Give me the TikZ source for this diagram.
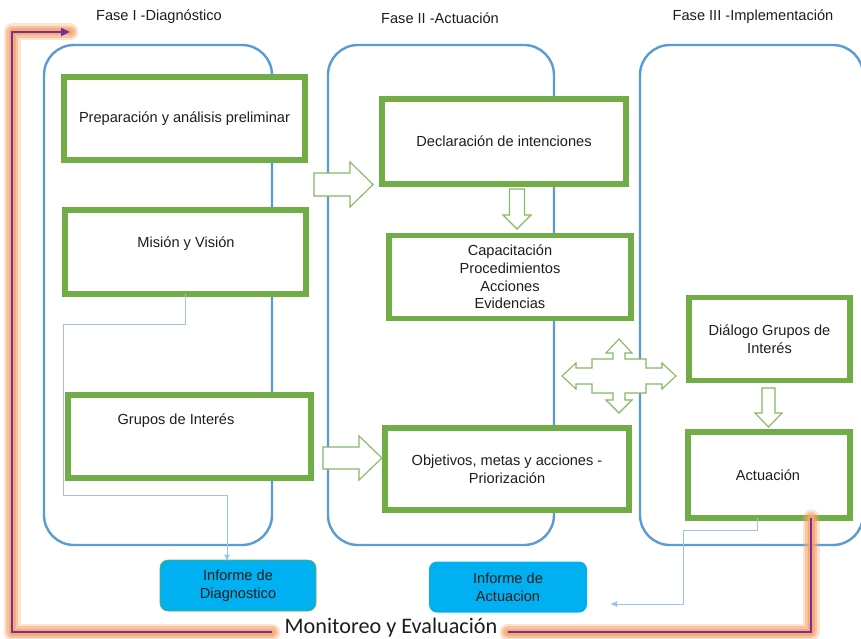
\documentclass[tikz,border=0pt]{standalone}
\usepackage{fontspec}
\setmainfont{Liberation Sans}
\newfontfamily\calfont{Carlito}
\usetikzlibrary{arrows.meta}
\definecolor{gbox}{HTML}{70AD47}
\definecolor{lane}{HTML}{5B9BD5}
\definecolor{cyanbox}{HTML}{00B0F0}
\definecolor{thinc}{HTML}{9DC3E6}
\definecolor{purp}{HTML}{7030A0}
\definecolor{glow}{HTML}{F8A56A}
\definecolor{txt}{HTML}{1E1E1E}
\tikzset{
  lanebox/.style={draw=lane, line width=2.4pt, rounded corners=30pt},
  gbx/.style={draw=gbox, line width=5.5pt, fill=white, text=txt, align=center,
    font=\fontsize{14.6}{17.7}\selectfont, inner sep=0pt},
  infobox/.style={fill=cyanbox, rounded corners=8pt, text=txt, align=center,
    font=\fontsize{14.6}{17.7}\selectfont, inner sep=0pt},
  fase/.style={text=txt, font=\fontsize{14.6}{17}\selectfont, inner sep=0pt},
  blockarrow/.style={draw=gbox!85!white, line width=1.1pt, fill=white, line join=miter},
  thinconn/.style={draw=thinc, line width=1pt, -{Latex[length=7pt,width=6pt]}},
  loopline/.style={draw=purp, line width=2.8pt},
}
\begin{document}
\begin{tikzpicture}[x=1pt,y=-1pt]
\useasboundingbox (0,0) rectangle (861,639);
\fill[white] (0,0) rectangle (861,639);
% lanes
\draw[lanebox] (44,45) rectangle (272,545);
\draw[lanebox] (328,45) rectangle (554,545);
\draw[lanebox] (640,45) rectangle (863,545);
% phase labels
\node[fase] (f1) at (159,17) {Fase I -Diagnóstico};
\node[fase] (f2) at (440,18) {Fase II -Actuación};
\node[fase] (f3) at (753,17) {Fase III -Implementación};
% green boxes
\node[gbx, minimum width=241pt, minimum height=83pt] (prep) at (184.5,118.5) {Preparación y análisis preliminar};
\node[gbx, minimum width=241pt, minimum height=84pt] (mision) at (185.5,252) {};
\node[fase] (misiont) at (186,244) {Misión y Visión};
\node[gbx, minimum width=243pt, minimum height=83pt] (grupos) at (189.5,436.5) {};
\node[fase] (grupost) at (176,421) {Grupos de Interés};
\node[gbx, minimum width=244pt, minimum height=85pt] (decl) at (504,141.5) {Declaración de intenciones};
\node[gbx, minimum width=242pt, minimum height=83pt] (capac) at (510,277) {Capacitación\\Procedimientos\\Acciones\\Evidencias};
\node[gbx, minimum width=244pt, minimum height=82pt] (obj) at (507,469) {Objetivos, metas y acciones -\\Priorización};
\node[gbx, minimum width=161pt, minimum height=83pt] (dial) at (769.5,339) {Diálogo Grupos de\\Interés};
\node[gbx, minimum width=162pt, minimum height=86pt] (actuac) at (769,475) {};
\node[fase] (actuact) at (768,475) {Actuación};
% informe boxes
\node[infobox, draw=gbox, line width=0.6pt, minimum width=156pt, minimum height=51pt] (infd) at (238,585.5) {Informe de\\Diagnostico};
\node[infobox, minimum width=158pt, minimum height=51pt] (infa) at (508,587) {Informe de\\Actuacion};
% block arrows
\draw[blockarrow] (314,173) -- (350,173) -- (350,162) -- (373,184.5) -- (350,207) -- (350,196) -- (314,196) -- cycle;
\draw[blockarrow] (323,447) -- (359,447) -- (359,436) -- (382,458) -- (359,480) -- (359,469) -- (323,469) -- cycle;
\draw[blockarrow] (509.5,189) -- (524.5,189) -- (524.5,215) -- (531,215) -- (517,229) -- (503,215) -- (509.5,215) -- cycle;
\draw[blockarrow] (762,388) -- (775,388) -- (775,413) -- (782,413) -- (768.5,427) -- (755,413) -- (762,413) -- cycle;
\begin{scope}[shift={(619,376)}]
\draw[blockarrow] (-57,0) -- (-43,-13) -- (-43,-8) -- (-27,-8) -- (-27,-17) -- (-6,-17) -- (-6,-23) -- (-13,-23) -- (0,-37)
  -- (13,-23) -- (6,-23) -- (6,-17) -- (27,-17) -- (27,-8) -- (43,-8) -- (43,-13) -- (57,0)
  -- (43,13) -- (43,8) -- (27,8) -- (27,17) -- (6,17) -- (6,24) -- (13,24) -- (0,37)
  -- (-13,24) -- (-6,24) -- (-6,17) -- (-27,17) -- (-27,8) -- (-43,8) -- (-43,13) -- cycle;
\end{scope}
% thin connectors
\coordinate (rtip) at (610,604);
\draw[thinconn] ([xshift=-0.5pt,yshift=3pt]mision.south) -- ++(0,31) -| (63,495) -| ([xshift=-11pt,yshift=-2pt]infd.north);
\draw[thinconn] ([xshift=-12pt,yshift=3pt]actuac.south) -- ++(0,13) -| (683,604) -- (rtip);
% monitoring loop
\node[inner sep=0pt, text=txt, font=\calfont\fontsize{22.2}{24}\selectfont] (me) at (391,628) {Monitoreo y Evaluación};
\coordinate (ls) at (811,518);
\coordinate (le) at (70,32);
\coordinate (gapr) at (508,632);
\coordinate (gapl) at (272,632);
\foreach \w/\o in {17/0.3,12/0.5,7/0.8}{
  \draw[draw=glow, line width=\w pt, opacity=\o, line join=round, line cap=round] (ls) |- (gapr);
  \draw[draw=glow, line width=\w pt, opacity=\o, line join=round, line cap=round] (gapl) -| (12,32) -- (le);
}
\draw[loopline] (ls) |- (gapr);
\draw[loopline, -{Triangle[length=9pt,width=8pt]}] (gapl) -| (12,32) -- (le);
\end{tikzpicture}
\end{document}
